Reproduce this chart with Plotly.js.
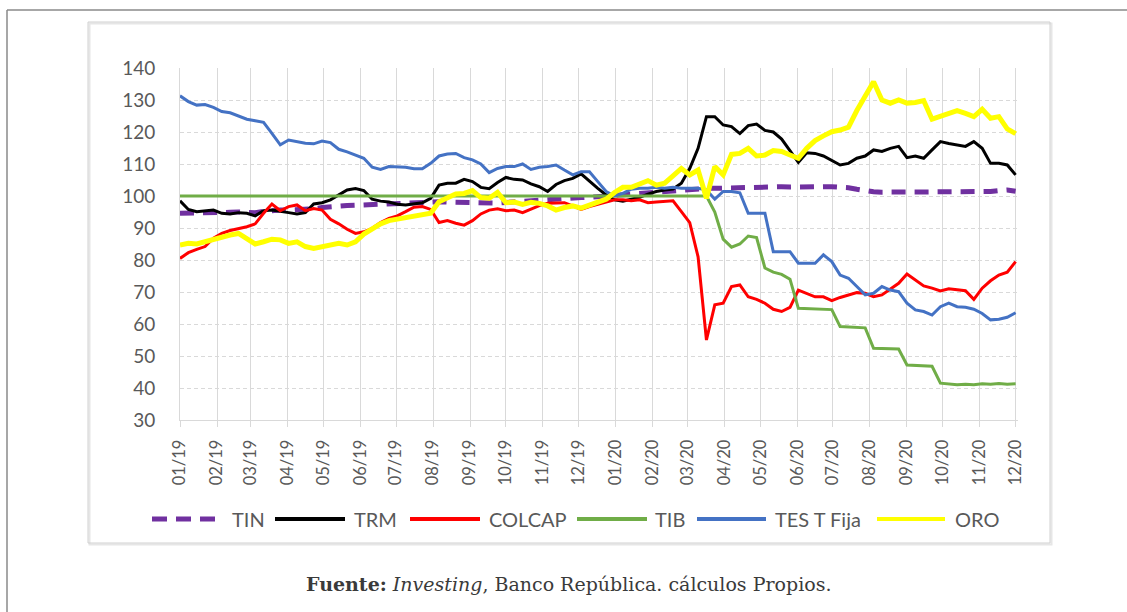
<!DOCTYPE html>
<html>
<head>
<meta charset="utf-8">
<script src="https://cdn.plot.ly/plotly-3.0.1.min.js"></script>
<style>
  html, body { margin: 0; padding: 0; background: #ffffff; }
  #chart { width: 1127px; height: 612px; }
</style>
</head>
<body>
<div id="chart"></div>
<script>
// Weekly index levels (base = 100), Jan 2019 - Dec 2020
const startDate = '2019-01-01';

const tin = [
  94.6, 94.6, 94.6, 94.7, 94.7, 94.8, 94.9, 95.0, 94.9, 94.8,
  95.2, 95.5, 95.6, 95.6, 95.7, 95.8, 96.0, 96.4, 96.7, 96.9,
  97.0, 97.1, 97.2, 97.5, 97.7, 97.7, 97.8, 97.8, 97.9, 98.1,
  98.2, 98.2, 98.1, 98.0, 97.9, 97.8, 97.7, 97.7, 97.8, 98.0,
  98.2, 98.4, 98.6, 98.8, 99.0, 99.1, 99.3, 99.4, 99.5, 99.6,
  99.8, 100.0, 100.2, 100.5, 100.7, 101.0, 101.2, 101.5, 101.7, 101.9,
  102.1, 102.2, 102.3, 102.4, 102.4, 102.5, 102.6, 102.6, 102.7, 102.8,
  102.8, 102.9, 102.9, 102.8, 102.9, 103.0, 103.0, 102.9, 102.9, 102.8,
  102.6, 102.1, 101.6, 101.3, 101.2, 101.2, 101.2, 101.2, 101.2, 101.2,
  101.2, 101.2, 101.3, 101.2, 101.2, 101.3, 101.2, 101.4, 101.7, 101.9,
  101.5
];

const trm = [
  98.5, 95.8, 95.1, 95.4, 95.6, 94.6, 94.4, 94.8, 94.6, 93.8,
  95.4, 95.6, 95.1, 94.8, 94.4, 94.8, 97.5, 97.9, 98.8, 100.3,
  101.9, 102.3, 101.7, 99.0, 98.4, 98.1, 97.4, 97.2, 97.5, 97.9,
  99.3, 103.4, 104.0, 104.0, 105.2, 104.5, 102.7, 102.3, 104.2, 105.8,
  105.2, 105.0, 103.8, 102.9, 101.4, 103.6, 104.8, 105.5, 106.9, 104.8,
  102.4, 100.3, 98.8, 98.4, 99.0, 99.6, 100.6, 101.4, 101.9, 102.2,
  104.0, 108.6, 114.9, 124.8, 124.8, 122.2, 121.7, 119.5, 122.0, 122.5,
  120.5, 120.0, 117.8, 114.0, 110.5, 113.5, 113.3, 112.5, 111.0, 109.7,
  110.2, 111.8, 112.5, 114.4, 113.9, 114.9, 115.5, 112.0, 112.5, 111.8,
  114.4, 117.0, 116.4, 115.9, 115.5, 117.0, 114.9, 110.2, 110.2, 109.7,
  106.6
];

const colcap = [
  80.5, 82.3, 83.3, 84.2, 86.8, 88.3, 89.2, 89.8, 90.4, 91.3,
  94.6, 97.5, 95.4, 96.7, 97.2, 95.4, 96.1, 95.6, 92.7, 91.3,
  89.6, 88.3, 88.8, 89.9, 91.7, 93.0, 93.8, 95.1, 96.5, 96.7,
  95.8, 91.7, 92.3, 91.5, 90.9, 92.3, 94.4, 95.6, 96.0, 95.4,
  95.6, 94.8, 95.8, 97.0, 97.7, 97.7, 97.9, 96.9, 95.8, 96.7,
  97.4, 98.1, 98.8, 98.8, 98.5, 98.8, 97.9, 98.1, 98.4, 98.5,
  95.1, 91.7, 81.0, 55.0, 66.0, 66.5, 71.7, 72.2, 68.5, 67.7,
  66.5, 64.6, 63.9, 65.2, 70.6, 69.6, 68.5, 68.5, 67.3, 68.3,
  69.1, 69.8, 69.6, 68.5, 69.1, 70.8, 72.7, 75.6, 73.8, 71.9,
  71.2, 70.3, 71.0, 70.6, 70.4, 67.7, 71.2, 73.5, 75.3, 76.2,
  79.5
];

const tib = [
  100, 100, 100, 100, 100, 100, 100, 100, 100, 100,
  100, 100, 100, 100, 100, 100, 100, 100, 100, 100,
  100, 100, 100, 100, 100, 100, 100, 100, 100, 100,
  100, 100, 100, 100, 100, 100, 100, 100, 100, 100,
  100, 100, 100, 100, 100, 100, 100, 100, 100, 100,
  100, 100, 100, 100, 100, 100, 100, 100, 100, 100,
  100, 100, 100, 100, 95.0, 86.5, 84.0, 85.0, 87.5, 87.0,
  77.5, 76.2, 75.5, 74.0, 64.9, 64.8, 64.7, 64.7, 64.5, 59.2,
  59.0, 59.0, 58.8, 52.4, 52.4, 52.3, 52.2, 47.2, 47.0, 47.0,
  46.8, 41.5, 41.2, 41.0, 41.2, 41.0, 41.3, 41.2, 41.4, 41.2,
  41.3
];

const tesFija = [
  131.3, 129.5, 128.4, 128.6, 127.7, 126.4, 126.0, 125.0, 124.0, 123.5,
  123.0, 119.6, 116.0, 117.5, 117.0, 116.5, 116.3, 117.2, 116.7, 114.6,
  113.8, 112.8, 111.8, 109.0, 108.3, 109.2, 109.2, 109.0, 108.5, 108.5,
  110.2, 112.5, 113.1, 113.3, 112.0, 111.3, 110.0, 107.3, 108.6, 109.2,
  109.2, 110.0, 108.3, 109.0, 109.2, 109.7, 108.1, 106.6, 107.6, 107.6,
  104.5, 101.4, 100.0, 100.8, 102.1, 102.4, 102.4, 102.7, 102.4, 102.7,
  102.4, 102.4, 102.4, 101.9, 99.0, 101.4, 101.4, 101.0, 94.6, 94.6,
  94.6, 82.6, 82.6, 82.6, 79.0, 79.0, 79.0, 81.6, 79.5, 75.3,
  74.3, 71.7, 69.1, 69.6, 71.7, 70.6, 70.1, 66.5, 64.4, 63.9,
  62.8, 65.4, 66.5, 65.4, 65.2, 64.6, 63.3, 61.3, 61.5, 62.1,
  63.5
];

const oro = [
  84.7, 85.2, 85.0, 85.7, 86.8, 87.5, 87.8, 88.3, 86.8, 85.0,
  85.7, 86.5, 86.3, 85.2, 85.7, 84.2, 83.6, 84.2, 84.7, 85.2,
  84.7, 85.7, 88.1, 89.6, 91.3, 92.3, 92.8, 93.3, 93.5, 94.0,
  94.6, 98.2, 99.6, 100.6, 100.8, 101.7, 99.5, 99.3, 101.1, 97.9,
  98.1, 97.4, 98.0, 97.7, 96.9, 95.6, 96.4, 96.9, 96.2, 97.2,
  97.9, 99.0, 101.1, 102.7, 102.7, 103.6, 104.8, 103.4, 104.0, 106.3,
  108.6, 106.6, 108.1, 99.3, 109.2, 106.6, 113.0, 113.3, 114.9, 112.5,
  112.8, 114.2, 113.9, 112.8, 111.8, 114.9, 117.3, 118.8, 120.1, 120.6,
  121.5, 126.7, 131.0, 135.7, 130.0, 129.0, 130.0, 129.0, 129.2, 129.8,
  124.0, 125.0, 126.0, 126.7, 125.8, 124.8, 127.1, 124.3, 124.8, 121.0,
  119.5
];

const seriesNames = ['TIN', 'TRM', 'COLCAP', 'TIB', 'TES T Fija', 'ORO'];
const seriesColors = ['#7030A0', '#000000', '#FF0000', '#70AD47', '#4472C4', '#FFFF00'];
const seriesValues = [tin, trm, colcap, tib, tesFija, oro];

const monthTicks = [
  '2019-01-01', '2019-02-01', '2019-03-01', '2019-04-01', '2019-05-01', '2019-06-01',
  '2019-07-01', '2019-08-01', '2019-09-01', '2019-10-01', '2019-11-01', '2019-12-01',
  '2020-01-01', '2020-02-01', '2020-03-01', '2020-04-01', '2020-05-01', '2020-06-01',
  '2020-07-01', '2020-08-01', '2020-09-01', '2020-10-01', '2020-11-01', '2020-12-01'
];
const monthLabels = [
  '01/19', '02/19', '03/19', '04/19', '05/19', '06/19', '07/19', '08/19', '09/19', '10/19', '11/19', '12/19',
  '01/20', '02/20', '03/20', '04/20', '05/20', '06/20', '07/20', '08/20', '09/20', '10/20', '11/20', '12/20'
];

const caption = '<b>Fuente:</b> <i>Investing</i>, Banco República. cálculos Propios.';

// observation dates: one per week starting at startDate
function weeklyDates(start, count) {
  const out = [];
  const t0 = Date.parse(start + 'T00:00:00Z');
  for (let i = 0; i < count; i++) {
    out.push(new Date(t0 + i * 7 * 86400000).toISOString().slice(0, 10));
  }
  return out;
}
const dates = weeklyDates(startDate, tin.length);

// figure geometry (pixels)
const W = 1127, H = 612;
const M = { l: 180, r: 109, t: 68, b: 192 };
const plotW = W - M.l - M.r, plotH = H - M.t - M.b;
const px = x => (x - M.l) / plotW;
const py = y => (H - M.b - y) / plotH;

const lineStyles = [
  { width: 5, dash: '14px,9px' },
  { width: 3 },
  { width: 3 },
  { width: 3 },
  { width: 3 },
  { width: 5 }
];

const traces = seriesNames.map((name, i) => ({
  type: 'scatter',
  mode: 'lines',
  name: name,
  x: dates,
  y: seriesValues[i],
  line: Object.assign({ color: seriesColors[i] }, lineStyles[i]),
  hoverinfo: 'skip'
}));

// frames around the figure
const shapes = [
  // outer page frame (top and left edges visible)
  { type: 'line', xref: 'paper', yref: 'paper', x0: px(7), x1: px(1140), y0: py(10), y1: py(10),
    line: { color: '#8a8a8a', width: 1.5 } },
  { type: 'line', xref: 'paper', yref: 'paper', x0: px(7), x1: px(7), y0: py(10), y1: py(620),
    line: { color: '#8a8a8a', width: 1.5 } },
  // chart box with soft shadow
  { type: 'rect', xref: 'paper', yref: 'paper', x0: px(89.5), x1: px(1051.5), y0: py(544.5), y1: py(23.5),
    line: { color: '#e6e6e6', width: 2 } },
  { type: 'rect', xref: 'paper', yref: 'paper', x0: px(88), x1: px(1050), y0: py(543), y1: py(22),
    line: { color: '#d0d0d0', width: 1 } }
];

// legend: line samples + labels
const legendY = 519;
const legendItems = [
  { line: [152, 215], text: 230 },
  { line: [275, 345], text: 352 },
  { line: [410, 480], text: 487 },
  { line: [577, 647], text: 653 },
  { line: [697, 766], text: 773 },
  { line: [877, 945], text: 953 }
];
const annotations = [];
legendItems.forEach((it, i) => {
  shapes.push({
    type: 'line', xref: 'paper', yref: 'paper',
    x0: px(it.line[0]), x1: px(it.line[1]), y0: py(legendY), y1: py(legendY),
    line: { color: seriesColors[i], width: i === 0 ? 5 : 4, dash: i === 0 ? '15px,9px' : 'solid' }
  });
  annotations.push({
    xref: 'paper', yref: 'paper', x: px(it.text), y: py(legendY),
    xanchor: 'left', yanchor: 'middle', showarrow: false,
    text: seriesNames[i],
    font: { family: 'Lato, "Open Sans", sans-serif', size: 20, color: '#595959' }
  });
});

annotations.push({
  xref: 'paper', yref: 'paper', x: px(568), y: py(584),
  xanchor: 'center', yanchor: 'middle', showarrow: false,
  text: caption,
  font: { family: '"DejaVu Serif", serif', size: 19, color: '#3a3a3a' }
});

const layout = {
  width: W, height: H,
  margin: { l: M.l, r: M.r, t: M.t, b: M.b, pad: 0 },
  paper_bgcolor: '#ffffff',
  plot_bgcolor: '#ffffff',
  showlegend: false,
  xaxis: {
    type: 'date',
    range: ['2019-01-01', '2020-12-03'],
    tickmode: 'array',
    tickvals: monthTicks,
    ticktext: monthLabels,
    tickangle: -90,
    showgrid: true, gridcolor: '#d9d9d9', gridwidth: 1,
    ticks: 'outside', ticklen: 6, tickcolor: '#d9d9d9', tickwidth: 1,
    showline: true, linecolor: '#d9d9d9', linewidth: 1,
    zeroline: false,
    ticklabelstandoff: 6,
    tickfont: { family: 'Lato, "Open Sans", sans-serif', size: 16.5, color: '#595959' }
  },
  yaxis: {
    range: [30, 140],
    tickmode: 'linear', tick0: 30, dtick: 10,
    showgrid: true, gridcolor: '#d9d9d9', gridwidth: 1, griddash: '4px,3px',
    showline: true, linecolor: '#d9d9d9', linewidth: 1,
    ticks: '', zeroline: false,
    ticklabelstandoff: 20,
    tickfont: { family: 'Lato, "Open Sans", sans-serif', size: 19, color: '#595959' }
  },
  shapes: shapes,
  annotations: annotations
};

Plotly.newPlot('chart', traces, layout, { staticPlot: true, displayModeBar: false });
</script>
</body>
</html>
